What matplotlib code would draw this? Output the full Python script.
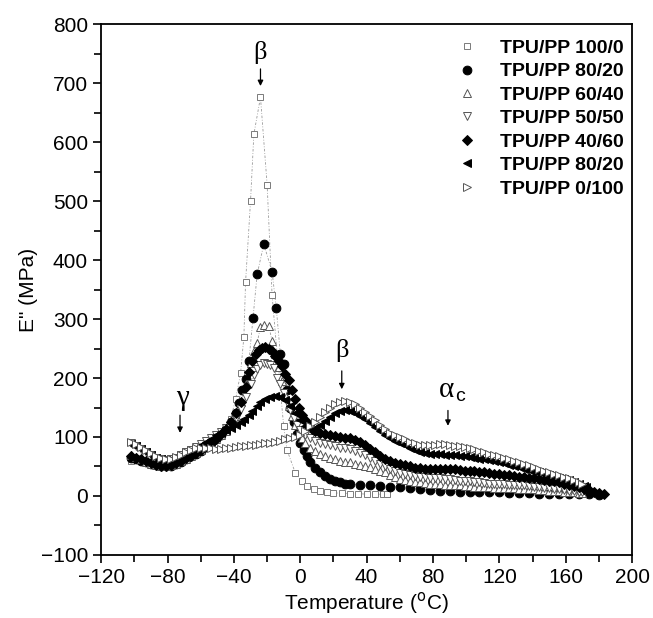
import matplotlib
matplotlib.use('Agg')
import matplotlib.pyplot as plt
from matplotlib.ticker import MultipleLocator

# ── data ──────────────────────────────────────────────────────────────────────
# TPU/PP 100/0 (open square)
t_100_0 = [-102, -99, -96, -93, -90, -87, -84, -81, -78, -75, -72, -69, -66, -63,
           -60, -57, -54, -51, -48, -45, -42, -39, -36, -34, -33, -30, -28, -24,
           -20, -17, -13.5, -10, -8, -3, 1, 4, 8, 12, 16, 20, 25, 30, 35, 40, 45, 50, 52]
e_100_0 = [60, 62, 60, 57, 55, 53, 52, 53, 55, 58, 62, 66, 70, 74,
           78, 83, 88, 95, 103, 115, 130, 164, 208, 270, 362, 500, 613, 676,
           528, 340, 225, 118, 78, 39, 25, 17, 12, 8, 6, 5, 5, 4, 4, 3, 3, 3, 3]

# TPU/PP 80/20 (filled circle)
t_80_20 = [-102, -99, -96, -93, -90, -87, -84, -81, -78, -75, -72, -69, -66, -63,
           -60, -57, -54, -51, -48, -45, -42, -39, -37, -35, -33, -31, -28.5, -26,
           -22, -17, -14.5, -12, -10, -8, -6, -4, -2, 0, 2, 4, 6, 9, 12, 15, 18, 21,
           24, 27, 30, 36, 42, 48, 54, 60, 66, 72, 78, 84, 90, 96, 102, 108, 114,
           120, 126, 132, 138, 144, 150, 156, 162, 168, 174, 180]
e_80_20 = [65, 62, 60, 57, 55, 52, 50, 50, 51, 54, 58, 62, 67, 72,
           77, 83, 89, 96, 104, 113, 125, 140, 158, 180, 198, 228, 302, 376,
           427, 380, 319, 240, 224, 180, 150, 125, 105, 90, 78, 67, 58, 48, 40, 34, 29, 25,
           23, 21, 20, 19, 18, 17, 16, 15, 13, 11, 10, 9, 8, 7, 7, 6, 6,
           6, 5, 5, 5, 4, 4, 4, 3, 3, 3, 2]

# TPU/PP 60/40 (open up triangle)
t_60_40 = [-102, -99, -96, -93, -90, -87, -84, -81, -78, -75, -72, -69, -66, -63,
           -60, -57, -54, -51, -48, -45, -42, -39, -36, -33, -30, -28, -26, -24,
           -22, -19, -17, -15, -13, -11, -9, -7, -5, -3, -1, 1, 3, 6, 9, 12, 15,
           18, 21, 24, 27, 30, 33, 36, 39, 42, 45, 48, 51, 54, 57, 60, 63, 66, 69,
           72, 75, 78, 81, 84, 87, 90, 93, 96, 99, 102, 105, 108, 111, 114, 117,
           120, 123, 126, 129, 132, 135, 138, 141, 144, 147, 150, 153, 156, 159,
           162, 165, 168, 170]
e_60_40 = [70, 66, 62, 58, 55, 52, 50, 50, 52, 55, 59, 63, 68, 73,
           78, 84, 90, 96, 103, 111, 120, 135, 160, 190, 225, 245, 260, 286,
           290, 288, 263, 240, 218, 195, 172, 152, 135, 120, 108, 98, 90, 82, 76, 72, 68,
           65, 62, 60, 58, 57, 55, 53, 51, 49, 46, 43, 40, 36, 32, 29, 27, 26, 24,
           23, 22, 21, 20, 20, 19, 19, 18, 18, 17, 17, 16, 16, 15, 15, 14,
           14, 14, 13, 13, 12, 12, 12, 11, 10, 10, 9, 8, 8, 7,
           6, 6, 5, 5]

# TPU/PP 50/50 (open down triangle)
t_50_50 = [-102, -99, -96, -93, -90, -87, -84, -81, -78, -75, -72, -69, -66, -63,
           -60, -57, -54, -51, -48, -45, -42, -39, -36, -33, -30, -28, -26, -24,
           -22, -20, -18, -16, -14, -12, -10, -8, -6, -4, -2, 0, 3, 6, 9, 12, 15,
           18, 21, 24, 27, 30, 33, 36, 39, 42, 45, 48, 51, 54, 57, 60, 63, 66, 69,
           72, 75, 78, 81, 84, 87, 90, 93, 96, 99, 102, 105, 108, 111, 114, 117,
           120, 123, 126, 129, 132, 135, 138, 141, 144, 147, 150, 153, 156, 159,
           162, 165, 168, 170]
e_50_50 = [90, 85, 79, 74, 69, 65, 62, 61, 62, 65, 69, 74, 78, 83,
           88, 93, 98, 103, 108, 115, 122, 132, 148, 168, 190, 205, 215, 222,
           225, 224, 222, 217, 200, 190, 175, 160, 145, 132, 120, 112, 104, 98, 94, 90, 88,
           86, 84, 82, 81, 80, 77, 73, 69, 65, 60, 55, 50, 46, 42, 39, 37, 35, 34,
           33, 32, 31, 30, 30, 29, 28, 27, 26, 25, 25, 24, 23, 22, 21, 21,
           20, 20, 19, 19, 18, 18, 17, 16, 15, 14, 13, 12, 11, 10,
           9, 8, 7, 6]

# TPU/PP 40/60 (filled diamond)
t_40_60 = [-102, -99, -96, -93, -90, -87, -84, -81, -78, -75, -72, -69, -66, -63,
           -60, -57, -54, -51, -48, -45, -42, -39, -36, -33, -31, -29, -27, -25,
           -23, -21, -19, -17, -15, -13, -11, -9, -7, -5, -3, -1, 1, 3, 5, 7, 9,
           12, 15, 18, 21, 24, 27, 30, 33, 36, 39, 42, 45, 48, 51, 54, 57, 60, 63,
           66, 69, 72, 75, 78, 81, 84, 87, 90, 93, 96, 99, 102, 105, 108, 111, 114,
           117, 120, 123, 126, 129, 132, 135, 138, 141, 144, 147, 150, 153, 156,
           159, 162, 165, 168, 171, 174, 177, 180, 183]
e_40_60 = [68, 65, 62, 59, 56, 53, 51, 51, 53, 56, 60, 64, 68, 73,
           78, 84, 90, 97, 105, 114, 125, 140, 160, 185, 210, 228, 240, 248,
           251, 252, 250, 246, 238, 228, 220, 206, 196, 180, 165, 150, 138, 128, 120, 114, 110,
           107, 105, 104, 102, 100, 99, 98, 95, 91, 86, 80, 74, 68, 63, 59, 56, 54, 52,
           50, 48, 47, 46, 46, 46, 46, 46, 45, 45, 44, 43, 43, 42, 41, 40, 39,
           38, 37, 36, 35, 34, 33, 32, 31, 30, 29, 27, 26, 25, 23,
           21, 19, 17, 15, 12, 10, 7, 5, 3]

# TPU/PP 80/20 (second set, filled left triangle)
t_80_20b = [-102, -99, -96, -93, -90, -87, -84, -81, -78, -75, -72, -69, -66, -63,
            -60, -57, -54, -51, -48, -45, -42, -39, -36, -34, -31, -29, -26, -24,
            -21, -18, -15, -12, -9, -6, -3, 0, 3, 6, 9, 12, 15, 18, 21, 24, 27,
            30, 33, 36, 39, 42, 45, 48, 51, 54, 57, 60, 63, 66, 69, 72, 75, 78, 81,
            84, 87, 90, 93, 96, 99, 102, 105, 108, 111, 114, 117, 120, 123, 126,
            129, 132, 135, 138, 141, 144, 147, 150, 153, 156, 159, 162, 165, 168,
            171, 172]
e_80_20b = [88, 84, 79, 74, 69, 65, 62, 61, 62, 65, 69, 73, 77, 82,
            87, 92, 97, 103, 108, 112, 115, 120, 126, 131, 138, 144, 152, 160,
            165, 168, 169, 167, 162, 152, 140, 128, 118, 114, 115, 120, 127, 134, 140, 144, 145,
            144, 141, 136, 130, 124, 117, 110, 103, 98, 94, 90, 86, 82, 78, 75, 73, 72, 71,
            71, 70, 70, 69, 68, 67, 66, 65, 63, 62, 61, 60, 58, 56, 53,
            51, 49, 46, 44, 42, 40, 37, 35, 33, 31, 29, 27, 24, 21,
            17, 15]

# TPU/PP 0/100 (open right triangle)
t_0_100 = [-102, -99, -96, -93, -90, -87, -84, -81, -78, -75, -72, -69, -66, -63,
           -60, -57, -54, -51, -48, -45, -42, -39, -36, -33, -30, -27, -24, -21,
           -18, -15, -12, -9, -6, -3, 0, 3, 6, 9, 12, 15, 18, 21, 24, 27, 30, 33,
           36, 39, 42, 45, 48, 51, 54, 57, 60, 63, 66, 69, 72, 75, 78, 81, 84, 87,
           90, 93, 96, 99, 102, 105, 108, 111, 114, 117, 120, 123, 126, 129, 132,
           135, 138, 141, 144, 147, 150, 153, 156, 159, 162, 165, 168, 170]
e_0_100 = [92, 88, 83, 78, 73, 68, 64, 62, 63, 66, 70, 74, 78, 81,
           82, 82, 81, 80, 80, 81, 82, 83, 84, 85, 86, 87, 88, 89,
           90, 92, 94, 96, 98, 100, 104, 110, 118, 126, 134, 142, 150, 156, 160, 161, 160, 156,
           150, 143, 136, 128, 120, 113, 107, 103, 100, 96, 92, 89, 87, 86, 86, 87, 88, 88,
           87, 85, 84, 83, 81, 79, 77, 75, 72, 70, 68, 65, 62, 59, 57,
           55, 52, 49, 46, 43, 40, 37, 35, 33, 30, 27, 23, 20]

labels = ['TPU/PP 100/0', 'TPU/PP 80/20', 'TPU/PP 60/40', 'TPU/PP 50/50',
          'TPU/PP 40/60', 'TPU/PP 80/20', 'TPU/PP 0/100']
temps = [t_100_0, t_80_20, t_60_40, t_50_50, t_40_60, t_80_20b, t_0_100]
moduli = [e_100_0, e_80_20, e_60_40, e_50_50, e_40_60, e_80_20b, e_0_100]

# marker, face colour, edge colour, size
styles = [('s', 'white', '#7a7a7a', 5.0),
          ('o', 'black', 'black', 6.3),
          ('^', 'white', '#555555', 5.5),
          ('v', 'white', '#555555', 5.5),
          ('D', 'black', 'black', 4.6),
          ('<', 'black', 'black', 5.8),
          ('>', 'white', '#555555', 5.5)]

plt.rcParams['font.family'] = ['Liberation Sans', 'DejaVu Sans']
fig = plt.figure(figsize=(6.53, 6.18), dpi=100)
ax = fig.add_axes([0.155, 0.102, 0.813, 0.859])

for t, e, lab, (m, fc, ec, ms) in zip(temps, moduli, labels, styles):
    ax.plot(t, e, color='#9a9a9a', lw=0.6, ls=(0, (3, 2, 1, 2)), zorder=1)
    ax.plot(t, e, ls='none', marker=m, mfc=fc, mec=ec, ms=ms, mew=0.7,
            label=lab, zorder=2)

# relaxation labels
serif = ['Liberation Serif', 'DejaVu Serif']
greek = dict(family=serif, fontsize=19, ha='center', va='center')
arrow = dict(arrowstyle='-|>', color='black', lw=0.9, mutation_scale=8, shrinkA=0, shrinkB=0)
ax.text(-24, 752, 'β', **greek)
ax.annotate('', xy=(-24, 695), xytext=(-24, 724), arrowprops=arrow)
ax.text(-71, 166, 'γ', family=serif, fontsize=21, ha='center', va='center')
ax.annotate('', xy=(-72.5, 107), xytext=(-72.5, 137), arrowprops=arrow)
ax.text(25, 247, 'β', **greek)
ax.annotate('', xy=(25, 181), xytext=(25, 212), arrowprops=arrow)
ax.text(88, 180, 'α', family=serif, fontsize=21, ha='center', va='center')
ax.text(93.2, 169, 'c', fontsize=14, ha='left', va='center')
ax.annotate('', xy=(89, 119), xytext=(89, 145), arrowprops=arrow)

ax.set_xlim(-120, 200)
ax.set_ylim(-100, 800)
ax.xaxis.set_major_locator(MultipleLocator(40))
ax.xaxis.set_minor_locator(MultipleLocator(20))
ax.yaxis.set_major_locator(MultipleLocator(100))
ax.yaxis.set_minor_locator(MultipleLocator(50))
ax.tick_params(which='both', direction='out', top=False, right=False, labelsize=15, width=1.2)
ax.tick_params(which='major', length=6)
ax.tick_params(which='minor', length=5)
for sp in ax.spines.values():
    sp.set_linewidth(1.3)

ax.set_xlabel('Temperature ($^{\\mathrm{o}}$C)', fontsize=15, labelpad=2)
ax.set_ylabel('E" (MPa)', fontsize=15, labelpad=2)

leg = ax.legend(loc='upper right', bbox_to_anchor=(0.998, 0.986), frameon=False,
                prop={'weight': 'bold', 'size': 14}, handlelength=2.0,
                handletextpad=0.65, labelspacing=0.3, borderaxespad=0.0)

fig.savefig('out.png', dpi=100)
